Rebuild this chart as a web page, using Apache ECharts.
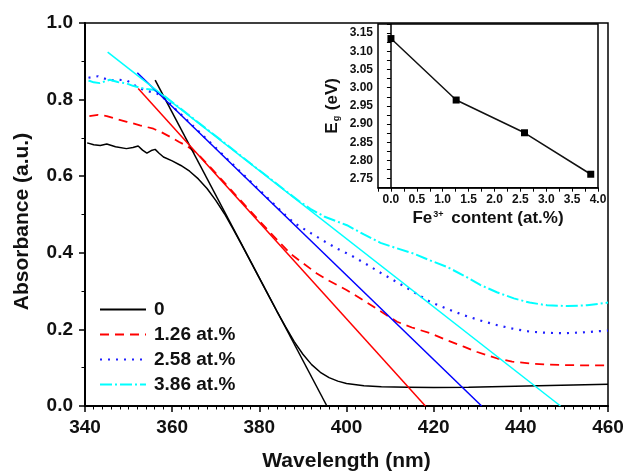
<!DOCTYPE html>
<html><head><meta charset="utf-8">
<script src="https://cdn.jsdelivr.net/npm/echarts@6/dist/echarts.min.js"></script>
<style>html,body{margin:0;padding:0;background:#fff}#c{width:626px;height:472px}</style>
</head><body><div id="c"></div>
<script>
// ---- data ----
const seriesNames = ['0', '1.26 at.%', '2.58 at.%', '3.86 at.%'];
const curve0 = [[340.5,0.687],[342,0.682],[343.5,0.680],[345,0.684],[347,0.677],[349.5,0.672],[351,0.675],[352.2,0.679],[353.2,0.668],[354.2,0.660],[355.2,0.667],[356.1,0.670],[357,0.660],[358,0.650],[360,0.640],[362,0.628],[364,0.613],[366,0.593],[368,0.568],[370,0.537],[372,0.502],[374,0.462],[376,0.420],[378,0.377],[380,0.334],[382,0.291],[384,0.248],[386,0.207],[388,0.168],[390,0.135],[392,0.108],[394,0.088],[396,0.074],[398,0.065],[400,0.059],[404,0.053],[408,0.050],[414,0.049],[420,0.048],[428,0.049],[436,0.051],[444,0.053],[452,0.055],[460,0.057]];
const curve126 = [[341,0.757],[343,0.760],[345,0.757],[347,0.750],[349.6,0.742],[352.6,0.733],[355.7,0.724],[357.5,0.715],[359.5,0.703],[361.5,0.690],[363.4,0.679],[366,0.657],[370,0.608],[374,0.558],[378,0.508],[382,0.459],[385,0.423],[387.1,0.398],[390,0.373],[393.2,0.346],[396,0.327],[400,0.303],[404,0.275],[408,0.246],[411.6,0.220],[415,0.205],[419.2,0.190],[423,0.172],[426.9,0.155],[430,0.141],[434.6,0.124],[438,0.116],[442.2,0.111],[446,0.108],[449.9,0.107],[455,0.106],[460,0.106]];
const curve258 = [[340.8,0.857],[343,0.861],[345.7,0.850],[347.5,0.852],[349.6,0.850],[351,0.840],[352.6,0.829],[354.5,0.822],[356.5,0.816],[358.8,0.798],[360.5,0.778],[364,0.740],[370,0.674],[376,0.608],[382,0.542],[386,0.498],[388,0.478],[389.4,0.468],[392,0.450],[395.1,0.429],[398,0.410],[400.9,0.394],[404,0.374],[407.8,0.348],[410.1,0.333],[413.9,0.308],[416.5,0.290],[419.2,0.272],[423,0.254],[426.9,0.237],[430.5,0.224],[434.6,0.211],[438.5,0.201],[442.2,0.194],[446,0.191],[449.9,0.190],[454,0.192],[460,0.197]];
const curve386 = [[340.8,0.850],[342,0.845],[343.4,0.843],[345.7,0.852],[347.5,0.846],[349.6,0.842],[351,0.836],[352.6,0.831],[354,0.828],[355.7,0.826],[357,0.818],[358,0.811],[362,0.776],[366,0.740],[370,0.705],[374,0.669],[378,0.633],[382,0.598],[386,0.562],[389,0.536],[391.7,0.515],[395,0.494],[400.1,0.472],[404,0.448],[407.8,0.426],[411.5,0.412],[415.4,0.398],[419,0.381],[423.1,0.363],[427,0.340],[430.7,0.316],[434.5,0.297],[438.4,0.281],[442,0.270],[446,0.263],[450.6,0.261],[455.2,0.263],[460,0.270]];
const fit0 = [[356.1,0.851],[395.5,0]];
const fit126 = [[352.2,0.829],[418.1,0]];
const fit258 = [[352,0.870],[431,0]];
const fit386 = [[345.2,0.924],[449.1,0]];
const insetFe = [0, 1.26, 2.58, 3.86];
const insetEg = [3.135, 2.966, 2.876, 2.762];

const FF = "'Liberation Sans', Arial, sans-serif";
const TXT = '#111';
const chart = echarts.init(document.getElementById('c'), null, {renderer: 'canvas'});

function mainLine(name, data, color, type, width) {
  return {name, type: 'line', data, xAxisIndex: 0, yAxisIndex: 0, symbol: 'none', silent: true,
    lineStyle: {color, width, type}, itemStyle: {color}, animation: false, z: 2};
}
function fitLine(data, color) {
  return {type: 'line', data, xAxisIndex: 0, yAxisIndex: 0, symbol: 'none', silent: true,
    lineStyle: {color, width: 1.5}, itemStyle: {color}, animation: false, z: 3};
}

const option = {
  animation: false,
  backgroundColor: '#fff',
  textStyle: {fontFamily: FF},
  grid: [
    {left: 85, right: 18, top: 23, bottom: 66, show: true, borderColor: '#000', borderWidth: 1.5, backgroundColor: 'transparent', outerBoundsMode: 'none', containLabel: false},
    {left: 378, top: 24, width: 220, height: 163.7, show: true, borderColor: '#000', borderWidth: 1.5, backgroundColor: '#fff', outerBoundsMode: 'none', containLabel: false}
  ],
  xAxis: [
    {type: 'value', gridIndex: 0, min: 340, max: 460, interval: 20,
      axisLine: {show: true, lineStyle: {color: '#000', width: 2}},
      axisTick: {show: true, inside: false, length: 6, lineStyle: {color: '#000', width: 1.5}},
      minorTick: {show: true, splitNumber: 10, length: 3.5, lineStyle: {color: '#000', width: 1}},
      splitLine: {show: false},
      axisLabel: {color: TXT, fontSize: 19, fontWeight: 'bold', fontFamily: FF, margin: 12},
      name: 'Wavelength (nm)', nameLocation: 'middle', nameGap: 45,
      nameTextStyle: {color: TXT, fontSize: 21, fontWeight: 'bold', fontFamily: FF}},
    {type: 'value', gridIndex: 1, min: -0.25, max: 4.0, interval: 0.25,
      axisLine: {show: true, lineStyle: {color: '#000', width: 1.5}},
      axisTick: {show: true, inside: false, length: 4, lineStyle: {color: '#000', width: 1}},
      splitLine: {show: false},
      axisLabel: {color: TXT, fontSize: 12, fontWeight: 'bold', fontFamily: FF, margin: 6,
        formatter: v => (v >= -1e-9 && Math.abs(v * 2 - Math.round(v * 2)) < 1e-6) ? v.toFixed(1) : ''},
      name: 'Fe{sup|3+} content (at.%)', nameLocation: 'middle', nameGap: 22,
      nameTextStyle: {color: TXT, fontSize: 17, fontWeight: 'bold', fontFamily: FF,
        rich: {sup: {fontSize: 9, fontWeight: 'bold', fontFamily: FF, color: TXT, verticalAlign: 'top', padding: [0, 3, 6, 1]}}}}
  ],
  yAxis: [
    {type: 'value', gridIndex: 0, min: 0, max: 1.0, interval: 0.2,
      axisLine: {show: true, lineStyle: {color: '#000', width: 2}},
      axisTick: {show: true, inside: false, length: 6, lineStyle: {color: '#000', width: 1.5}},
      minorTick: {show: true, splitNumber: 2, length: 3.5, lineStyle: {color: '#000', width: 1}},
      splitLine: {show: false},
      axisLabel: {color: TXT, fontSize: 19, fontWeight: 'bold', fontFamily: FF, margin: 12, formatter: v => v.toFixed(1)},
      name: 'Absorbance (a.u.)', nameLocation: 'middle', nameGap: 52,
      nameTextStyle: {color: TXT, fontSize: 21, fontWeight: 'bold', fontFamily: FF, padding: [0, 14, 0, 0]}},
    {type: 'value', gridIndex: 1, min: 2.725, max: 3.175, interval: 0.025,
      axisLine: {show: true, lineStyle: {color: '#000', width: 1.5}},
      axisTick: {show: true, inside: false, length: 4, lineStyle: {color: '#000', width: 1}},
      splitLine: {show: false},
      axisLabel: {color: TXT, fontSize: 12, fontWeight: 'bold', fontFamily: FF, margin: 5,
        formatter: v => Math.abs(v * 20 - Math.round(v * 20)) < 1e-6 ? v.toFixed(2) : ''},
      name: 'E{sub|g} (eV)', nameLocation: 'middle', nameGap: 37,
      nameTextStyle: {color: TXT, fontSize: 17, fontWeight: 'bold', fontFamily: FF,
        rich: {sub: {fontSize: 9, fontWeight: 'bold', fontFamily: FF, color: TXT, verticalAlign: 'bottom', padding: [6, 1, 0, 1]}}}}
  ],
  legend: {
    data: seriesNames, orient: 'vertical', left: 99, top: 300, padding: 0,
    itemWidth: 46, itemHeight: 19, itemGap: 6,
    itemStyle: {opacity: 0, borderWidth: 0},
    textStyle: {color: TXT, fontSize: 19, fontWeight: 'bold', fontFamily: FF, lineHeight: 19, padding: [0, 0, 0, 3]},
    selectedMode: false
  },
  series: [
    mainLine(seriesNames[0], curve0, '#000000', 'solid', 1.5),
    mainLine(seriesNames[1], curve126, '#ff0000', [9, 6], 1.8),
    mainLine(seriesNames[2], curve258, '#2020ff', [2, 6], 2.2),
    mainLine(seriesNames[3], curve386, '#00ffff', [12, 3, 2, 3], 2),
    fitLine(fit0, '#000000'),
    fitLine(fit126, '#ff0000'),
    fitLine(fit258, '#0000ff'),
    fitLine(fit386, '#00ffff'),
    {type: 'line', xAxisIndex: 1, yAxisIndex: 1, data: insetFe.map((x, i) => [x, insetEg[i]]),
      symbol: 'rect', symbolSize: 7, lineStyle: {color: '#111', width: 1.5}, itemStyle: {color: '#000'}, silent: true, z: 5}
  ]
};
chart.setOption(option);
</script>
</body></html>
